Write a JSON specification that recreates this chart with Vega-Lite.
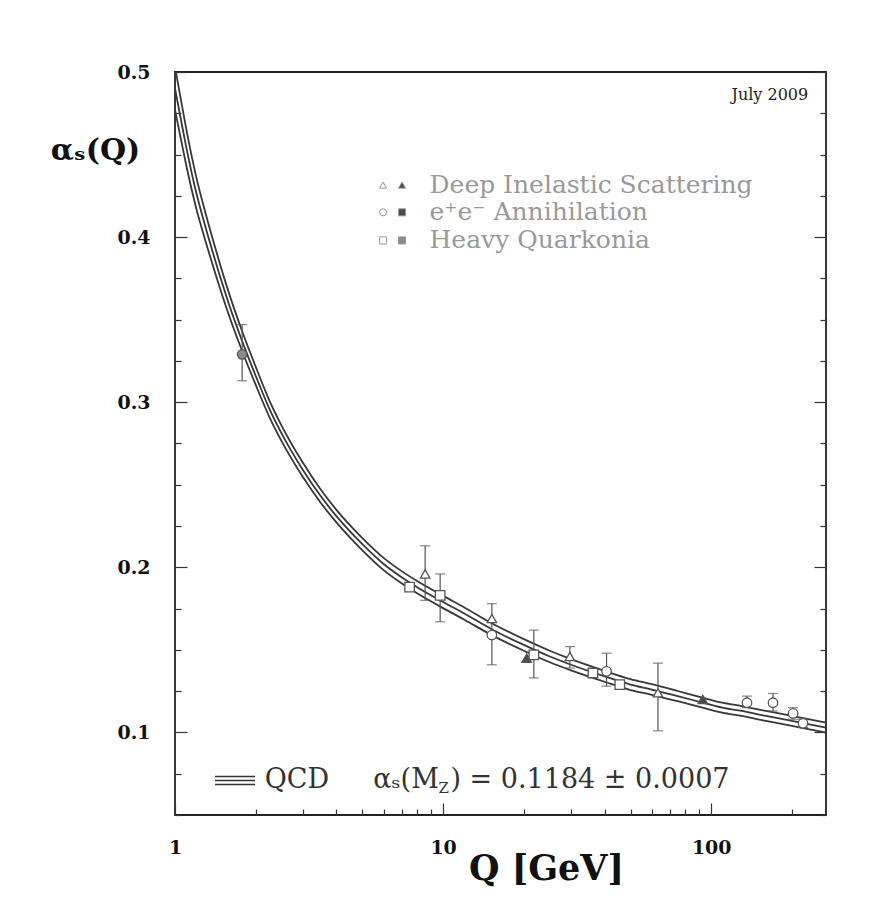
{
  "$schema": "https://vega.github.io/schema/vega-lite/v6.json",
  "width": 651,
  "height": 743,
  "autosize": "none",
  "padding": {"left": 175, "top": 72, "right": 65, "bottom": 97},
  "background": "white",
  "config": {"view": {"stroke": "#222", "strokeWidth": 1.8}, "font": "DejaVu Serif"},
  "datasets": {
    "curve": [
      {"Q": 1.0, "a": 0.490, "lo": 0.477, "hi": 0.503},
      {"Q": 1.05, "a": 0.472, "lo": 0.460, "hi": 0.484},
      {"Q": 1.1, "a": 0.455, "lo": 0.444, "hi": 0.466},
      {"Q": 1.2, "a": 0.427, "lo": 0.4175, "hi": 0.4365},
      {"Q": 1.3, "a": 0.406, "lo": 0.3975, "hi": 0.4145},
      {"Q": 1.4, "a": 0.388, "lo": 0.3802, "hi": 0.3958},
      {"Q": 1.5, "a": 0.372, "lo": 0.3648, "hi": 0.3792},
      {"Q": 1.6, "a": 0.358, "lo": 0.3513, "hi": 0.3647},
      {"Q": 1.78, "a": 0.337, "lo": 0.331, "hi": 0.343},
      {"Q": 2.0, "a": 0.316, "lo": 0.3105, "hi": 0.3215},
      {"Q": 2.25, "a": 0.296, "lo": 0.291, "hi": 0.301},
      {"Q": 2.5, "a": 0.281, "lo": 0.2763, "hi": 0.2857},
      {"Q": 3.0, "a": 0.259, "lo": 0.2547, "hi": 0.2633},
      {"Q": 3.5, "a": 0.243, "lo": 0.239, "hi": 0.247},
      {"Q": 4.0, "a": 0.231, "lo": 0.2272, "hi": 0.2348},
      {"Q": 5.0, "a": 0.214, "lo": 0.2103, "hi": 0.2177},
      {"Q": 6.0, "a": 0.202, "lo": 0.1983, "hi": 0.2057},
      {"Q": 7.0, "a": 0.194, "lo": 0.1903, "hi": 0.1977},
      {"Q": 8.0, "a": 0.188, "lo": 0.1843, "hi": 0.1917},
      {"Q": 10, "a": 0.179, "lo": 0.1753, "hi": 0.1827},
      {"Q": 12, "a": 0.172, "lo": 0.1683, "hi": 0.1757},
      {"Q": 15, "a": 0.163, "lo": 0.1594, "hi": 0.1666},
      {"Q": 20, "a": 0.153, "lo": 0.1495, "hi": 0.1565},
      {"Q": 25, "a": 0.146, "lo": 0.1425, "hi": 0.1495},
      {"Q": 30, "a": 0.141, "lo": 0.1376, "hi": 0.1444},
      {"Q": 40, "a": 0.134, "lo": 0.1307, "hi": 0.1373},
      {"Q": 50, "a": 0.129, "lo": 0.1257, "hi": 0.1323},
      {"Q": 60, "a": 0.126, "lo": 0.1228, "hi": 0.1292},
      {"Q": 75, "a": 0.122, "lo": 0.1189, "hi": 0.1251},
      {"Q": 91.2, "a": 0.1184, "lo": 0.1154, "hi": 0.1214},
      {"Q": 110, "a": 0.115, "lo": 0.112, "hi": 0.118},
      {"Q": 130, "a": 0.113, "lo": 0.110, "hi": 0.116},
      {"Q": 160, "a": 0.110, "lo": 0.107, "hi": 0.113},
      {"Q": 200, "a": 0.107, "lo": 0.104, "hi": 0.110},
      {"Q": 230, "a": 0.105, "lo": 0.102, "hi": 0.108},
      {"Q": 268, "a": 0.103, "lo": 0.100, "hi": 0.106}
    ],
    "points": [
      {"Q": 1.78, "a": 0.329, "lo": 0.313, "hi": 0.347, "shape": "circ", "fill": "gray"},
      {"Q": 7.5, "a": 0.188, "lo": null, "hi": null, "shape": "sq", "fill": "open"},
      {"Q": 8.57, "a": 0.196, "lo": 0.180, "hi": 0.213, "shape": "tri", "fill": "open"},
      {"Q": 9.75, "a": 0.183, "lo": 0.167, "hi": 0.196, "shape": "sq", "fill": "open"},
      {"Q": 15.2, "a": 0.169, "lo": null, "hi": null, "shape": "tri", "fill": "open"},
      {"Q": 15.2, "a": 0.159, "lo": 0.141, "hi": 0.178, "shape": "circ", "fill": "open"},
      {"Q": 20.5, "a": 0.145, "lo": null, "hi": null, "shape": "tri", "fill": "dark"},
      {"Q": 21.8, "a": 0.147, "lo": 0.133, "hi": 0.162, "shape": "sq", "fill": "open"},
      {"Q": 29.7, "a": 0.146, "lo": 0.139, "hi": 0.152, "shape": "tri", "fill": "open"},
      {"Q": 36.2, "a": 0.136, "lo": null, "hi": null, "shape": "sq", "fill": "open"},
      {"Q": 40.7, "a": 0.137, "lo": 0.128, "hi": 0.148, "shape": "circ", "fill": "open"},
      {"Q": 45.6, "a": 0.129, "lo": null, "hi": null, "shape": "sq", "fill": "open"},
      {"Q": 63.3, "a": 0.124, "lo": 0.101, "hi": 0.142, "shape": "tri", "fill": "open"},
      {"Q": 93, "a": 0.120, "lo": null, "hi": null, "shape": "tri", "fill": "dark"},
      {"Q": 136, "a": 0.118, "lo": 0.115, "hi": 0.122, "shape": "circ", "fill": "open"},
      {"Q": 170, "a": 0.118, "lo": 0.113, "hi": 0.1236, "shape": "circ", "fill": "open"},
      {"Q": 202, "a": 0.1115, "lo": 0.108, "hi": 0.115, "shape": "circ", "fill": "open"},
      {"Q": 220, "a": 0.1055, "lo": 0.103, "hi": 0.108, "shape": "circ", "fill": "open"}
    ],
    "legendsym": [
      {"Q": 5.97, "a": 0.4315, "shape": "tri", "fill": "open"},
      {"Q": 7.03, "a": 0.4315, "shape": "tri", "fill": "dark"},
      {"Q": 5.97, "a": 0.415, "shape": "circ", "fill": "open"},
      {"Q": 7.03, "a": 0.415, "shape": "sq", "fill": "dark"},
      {"Q": 5.97, "a": 0.398, "shape": "sq", "fill": "open"},
      {"Q": 7.03, "a": 0.398, "shape": "sq", "fill": "gray"}
    ],
    "legendtxt": [
      {"Q": 8.9, "a": 0.4315, "label": "Deep Inelastic Scattering"},
      {"Q": 8.9, "a": 0.415, "label": "e⁺e⁻ Annihilation"},
      {"Q": 8.9, "a": 0.398, "label": "Heavy Quarkonia"}
    ],
    "qcdlines": [
      {"Q": 1.41, "Q2": 1.99, "a": 0.0733},
      {"Q": 1.41, "Q2": 1.99, "a": 0.0709},
      {"Q": 1.41, "Q2": 1.99, "a": 0.0685}
    ],
    "qcdtext": [
      {"Q": 2.16, "a": 0.0709, "label": "QCD"},
      {"Q": 5.49, "a": 0.0709, "label": "αₛ(M"},
      {"Q": 10.65, "a": 0.0709, "label": ") = 0.1184 ± 0.0007"}
    ],
    "qcdsub": [
      {"Q": 9.62, "a": 0.0709, "label": "Z"}
    ],
    "date": [
      {"Q": 230, "a": 0.486, "label": "July 2009"}
    ]
  },
  "resolve": {"axis": {"x": "independent", "y": "independent"}},
  "layer": [
    {
      "data": {"name": "curve"},
      "mark": {"type": "line", "interpolate": "monotone", "color": "#383838", "strokeWidth": 1.8, "clip": true},
      "encoding": {
        "x": {"field": "Q", "type": "quantitative", "scale": {"type": "log", "domain": [1, 268], "nice": false},
          "axis": {"orient": "bottom", "values": [1,2,3,4,5,6,7,8,9,10,20,30,40,50,60,70,80,90,100,200],
            "domain": false, "grid": false, "labelOverlap": false, "labelBound": false, "labelFlush": false,
            "labelExpr": "(datum.value==1||datum.value==10||datum.value==100) ? format(datum.value,'d') : ''",
            "labelFont": "DejaVu Serif", "labelFontWeight": "bold", "labelFontSize": 19, "labelColor": "#111", "labelPadding": 35,
            "tickColor": "#333", "tickWidth": 1.2,
            "tickSize": {"condition": {"test": "datum.value==1||datum.value==10||datum.value==100", "value": -12}, "value": -6},
            "title": "Q [GeV]", "titleX": 371, "titleY": 53, "titleAlign": "center", "titleBaseline": "middle",
            "titleFont": "DejaVu Serif", "titleFontWeight": "bold", "titleFontSize": 35, "titleColor": "#111"}},
        "y": {"field": "a", "type": "quantitative", "scale": {"domain": [0.05, 0.5], "nice": false, "zero": false},
          "axis": {"orient": "left", "values": [0.05,0.075,0.1,0.125,0.15,0.175,0.2,0.225,0.25,0.275,0.3,0.325,0.35,0.375,0.4,0.425,0.45,0.475,0.5],
            "domain": false, "grid": false, "labelOverlap": false, "labelBound": false, "labelFlush": false,
            "labelExpr": "abs(datum.value*10 - round(datum.value*10)) < 0.0001 ? format(datum.value,'.1f') : ''",
            "labelFont": "DejaVu Serif", "labelFontWeight": "bold", "labelFontSize": 19, "labelColor": "#111", "labelPadding": 37,
            "tickColor": "#333", "tickWidth": 1.2,
            "tickSize": {"condition": {"test": "abs(datum.value*10 - round(datum.value*10)) < 0.0001", "value": -12}, "value": -6},
            "title": "αₛ(Q)", "titleAngle": 0, "titleX": -80, "titleY": 78, "titleAlign": "center", "titleBaseline": "middle",
            "titleFont": "DejaVu Serif", "titleFontWeight": "bold", "titleFontSize": 30, "titleColor": "#111"}}
      }
    },
    {
      "data": {"name": "curve"},
      "mark": {"type": "line", "interpolate": "monotone", "color": "#383838", "strokeWidth": 1.8, "clip": true},
      "encoding": {
        "x": {"field": "Q", "type": "quantitative", "scale": {"type": "log", "domain": [1, 268], "nice": false}, "axis": null},
        "y": {"field": "lo", "type": "quantitative", "scale": {"domain": [0.05, 0.5], "nice": false, "zero": false},
          "axis": {"orient": "right", "values": [0.05,0.075,0.1,0.125,0.15,0.175,0.2,0.225,0.25,0.275,0.3,0.325,0.35,0.375,0.4,0.425,0.45,0.475,0.5],
            "domain": false, "grid": false, "labels": false, "title": null,
            "tickColor": "#333", "tickWidth": 1.2,
            "tickSize": {"condition": {"test": "abs(datum.value*10 - round(datum.value*10)) < 0.0001", "value": -12}, "value": -6}}}
      }
    },
    {
      "data": {"name": "curve"},
      "mark": {"type": "line", "interpolate": "monotone", "color": "#383838", "strokeWidth": 1.8, "clip": true},
      "encoding": {
        "x": {"field": "Q", "type": "quantitative", "scale": {"type": "log", "domain": [1, 268], "nice": false}, "axis": null},
        "y": {"field": "hi", "type": "quantitative", "scale": {"domain": [0.05, 0.5], "nice": false, "zero": false}, "axis": null}
      }
    },
    {
      "data": {"name": "points"},
      "transform": [{"filter": "isValid(datum.lo)"}],
      "mark": {"type": "rule", "color": "#555", "strokeWidth": 1.2},
      "encoding": {
        "x": {"field": "Q", "type": "quantitative", "scale": {"type": "log", "domain": [1, 268], "nice": false}, "axis": null},
        "y": {"field": "lo", "type": "quantitative", "scale": {"domain": [0.05, 0.5], "nice": false, "zero": false}, "axis": null},
        "y2": {"field": "hi"}
      }
    },
    {
      "data": {"name": "points"},
      "transform": [{"filter": "isValid(datum.lo)"}],
      "mark": {"type": "tick", "orient": "horizontal", "color": "#555", "size": 10, "thickness": 1.2},
      "encoding": {
        "x": {"field": "Q", "type": "quantitative", "scale": {"type": "log", "domain": [1, 268], "nice": false}, "axis": null},
        "y": {"field": "hi", "type": "quantitative", "scale": {"domain": [0.05, 0.5], "nice": false, "zero": false}, "axis": null}
      }
    },
    {
      "data": {"name": "points"},
      "transform": [{"filter": "isValid(datum.lo)"}],
      "mark": {"type": "tick", "orient": "horizontal", "color": "#555", "size": 10, "thickness": 1.2},
      "encoding": {
        "x": {"field": "Q", "type": "quantitative", "scale": {"type": "log", "domain": [1, 268], "nice": false}, "axis": null},
        "y": {"field": "lo", "type": "quantitative", "scale": {"domain": [0.05, 0.5], "nice": false, "zero": false}, "axis": null}
      }
    },
    {
      "data": {"name": "points"},
      "mark": {"type": "point", "filled": true, "stroke": "#555", "strokeWidth": 1.3, "size": 90, "opacity": 1},
      "encoding": {
        "x": {"field": "Q", "type": "quantitative", "scale": {"type": "log", "domain": [1, 268], "nice": false}, "axis": null},
        "y": {"field": "a", "type": "quantitative", "scale": {"domain": [0.05, 0.5], "nice": false, "zero": false}, "axis": null},
        "shape": {"field": "shape", "type": "nominal", "scale": {"domain": ["tri", "circ", "sq"], "range": ["triangle-up", "circle", "square"]}, "legend": null},
        "fill": {"field": "fill", "type": "nominal", "scale": {"domain": ["open", "gray", "dark"], "range": ["white", "#8a8a8a", "#4a4a4a"]}, "legend": null}
      }
    },
    {
      "data": {"name": "legendsym"},
      "mark": {"type": "point", "filled": true, "stroke": "#999", "strokeWidth": 1, "size": 50, "opacity": 1},
      "encoding": {
        "x": {"field": "Q", "type": "quantitative", "scale": {"type": "log", "domain": [1, 268], "nice": false}, "axis": null},
        "y": {"field": "a", "type": "quantitative", "scale": {"domain": [0.05, 0.5], "nice": false, "zero": false}, "axis": null},
        "shape": {"field": "shape", "type": "nominal", "scale": {"domain": ["tri", "circ", "sq"], "range": ["triangle-up", "circle", "square"]}, "legend": null},
        "fill": {"field": "fill", "type": "nominal", "scale": {"domain": ["open", "gray", "dark"], "range": ["white", "#8a8a8a", "#4a4a4a"]}, "legend": null}
      }
    },
    {
      "data": {"name": "legendtxt"},
      "mark": {"type": "text", "align": "left", "baseline": "middle", "font": "DejaVu Serif", "fontSize": 25, "color": "#999"},
      "encoding": {
        "x": {"field": "Q", "type": "quantitative", "scale": {"type": "log", "domain": [1, 268], "nice": false}, "axis": null},
        "y": {"field": "a", "type": "quantitative", "scale": {"domain": [0.05, 0.5], "nice": false, "zero": false}, "axis": null},
        "text": {"field": "label"}
      }
    },
    {
      "data": {"name": "qcdlines"},
      "mark": {"type": "rule", "color": "#333", "strokeWidth": 1.6},
      "encoding": {
        "x": {"field": "Q", "type": "quantitative", "scale": {"type": "log", "domain": [1, 268], "nice": false}, "axis": null},
        "x2": {"field": "Q2"},
        "y": {"field": "a", "type": "quantitative", "scale": {"domain": [0.05, 0.5], "nice": false, "zero": false}, "axis": null}
      }
    },
    {
      "data": {"name": "qcdtext"},
      "mark": {"type": "text", "align": "left", "baseline": "middle", "font": "DejaVu Serif", "fontSize": 27, "color": "#333"},
      "encoding": {
        "x": {"field": "Q", "type": "quantitative", "scale": {"type": "log", "domain": [1, 268], "nice": false}, "axis": null},
        "y": {"field": "a", "type": "quantitative", "scale": {"domain": [0.05, 0.5], "nice": false, "zero": false}, "axis": null},
        "text": {"field": "label"}
      }
    },
    {
      "data": {"name": "qcdsub"},
      "mark": {"type": "text", "align": "left", "baseline": "middle", "font": "DejaVu Serif", "fontSize": 15, "dy": 8, "color": "#333"},
      "encoding": {
        "x": {"field": "Q", "type": "quantitative", "scale": {"type": "log", "domain": [1, 268], "nice": false}, "axis": null},
        "y": {"field": "a", "type": "quantitative", "scale": {"domain": [0.05, 0.5], "nice": false, "zero": false}, "axis": null},
        "text": {"field": "label"}
      }
    },
    {
      "data": {"name": "date"},
      "mark": {"type": "text", "align": "right", "baseline": "middle", "font": "DejaVu Serif", "fontSize": 16, "color": "#222"},
      "encoding": {
        "x": {"field": "Q", "type": "quantitative", "scale": {"type": "log", "domain": [1, 268], "nice": false}, "axis": null},
        "y": {"field": "a", "type": "quantitative", "scale": {"domain": [0.05, 0.5], "nice": false, "zero": false}, "axis": null},
        "text": {"field": "label"}
      }
    }
  ]
}
